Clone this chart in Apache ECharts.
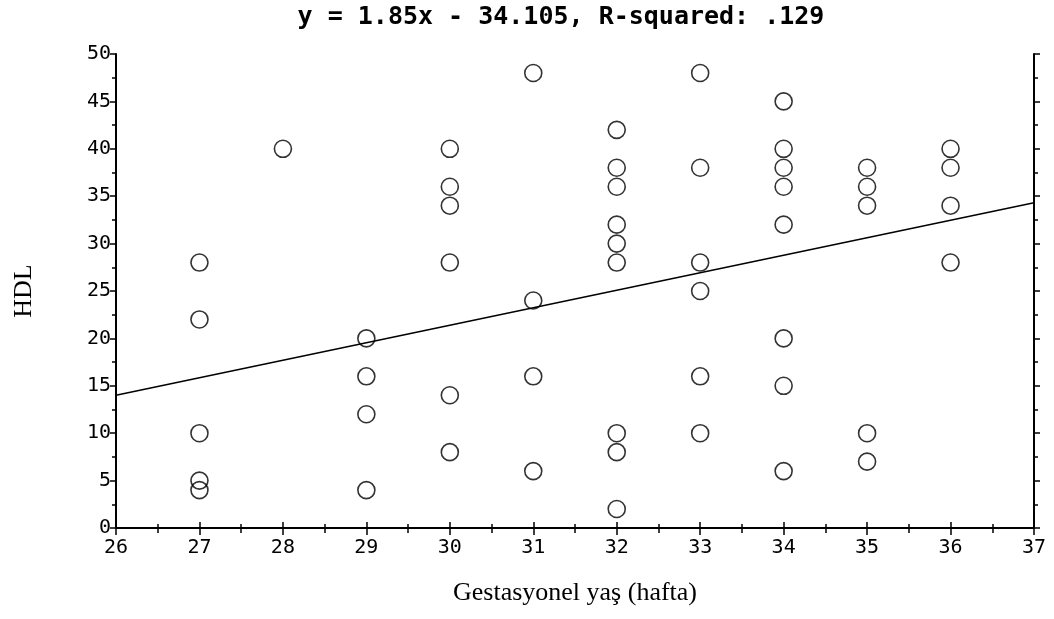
<!DOCTYPE html>
<html>
<head>
<meta charset="utf-8">
<script src="https://cdn.jsdelivr.net/npm/echarts@6/dist/echarts.min.js"></script>
<style>
html,body{margin:0;padding:0;background:#fff;}
#chart{width:1054px;height:619px;}
</style>
</head>
<body>
<div id="chart"></div>
<script>
// Gestational age (weeks) and HDL values
var weeks = [27,27,27,27,27, 28, 29,29,29,29, 30,30,30,30,30,30, 31,31,31,31,
             32,32,32,32,32,32,32,32,32, 33,33,33,33,33,33,
             34,34,34,34,34,34,34,34, 35,35,35,35,35, 36,36,36,36];
var hdl   = [28,22,10,5,4, 40, 20,16,12,4, 40,36,34,28,14,8, 48,24,16,6,
             42,38,36,32,30,28,10,8,2, 48,38,28,25,16,10,
             45,40,38,36,32,20,15,6, 38,36,34,10,7, 40,38,34,28];
// Regression line endpoints (y = 1.85x - 34.105) as read at the axis ends
var fitX = [26, 37];
var fitY = [14.0, 34.3];
var titleText = 'y = 1.85x - 34.105, R-squared: .129';
var xName = 'Gestasyonel yaş (hafta)';
var yName = 'HDL';

var points = weeks.map(function (w, i) { return [w, hdl[i]]; });
var fitLine = fitX.map(function (x, i) { return [x, fitY[i]]; });

var tickFont = {color:'#000', fontFamily:'DejaVu Sans Mono', fontSize:20};
var axisLine = {show:true, lineStyle:{color:'#000', width:2}};
var nameFont = {fontFamily:'Liberation Serif', fontSize:26, color:'#000'};

var chart = echarts.init(document.getElementById('chart'));
chart.setOption({
  animation:false,
  backgroundColor:'#fff',
  title:{
    text:titleText, left:556, textAlign:'center', top:0,
    textStyle:{fontFamily:'DejaVu Sans Mono', fontWeight:'bold', fontSize:25, color:'#000'}
  },
  grid:{left:116, right:20, top:54, bottom:91, containLabel:false},
  xAxis:[{
    type:'value', min:26, max:37, interval:1, position:'bottom',
    axisLine:axisLine,
    axisTick:{show:true, inside:false, length:7, lineStyle:{color:'#000', width:1.5}},
    minorTick:{show:true, splitNumber:2, length:5, lineStyle:{color:'#000', width:1.5}},
    splitLine:{show:false},
    axisLabel:Object.assign({margin:10}, tickFont),
    name:xName, nameLocation:'middle', nameGap:52,
    nameTextStyle:nameFont
  },{
    type:'value', min:26, max:37, interval:1, position:'top',
    axisLine:axisLine,
    axisTick:{show:true, inside:false, length:6, lineStyle:{color:'#000', width:1.5}},
    minorTick:{show:true, splitNumber:2, length:4, lineStyle:{color:'#000', width:1.5}},
    splitLine:{show:false}, axisLabel:{show:false}
  }],
  yAxis:[{
    type:'value', min:0, max:50, interval:5, position:'left',
    axisLine:axisLine,
    axisTick:{show:true, inside:false, length:6, lineStyle:{color:'#000', width:1.5}},
    minorTick:{show:true, splitNumber:2, length:4, lineStyle:{color:'#000', width:1.5}},
    splitLine:{show:false},
    axisLabel:Object.assign({margin:5}, tickFont),
    name:yName, nameLocation:'middle', nameGap:79, nameRotate:90,
    nameTextStyle:nameFont
  },{
    type:'value', min:0, max:50, interval:5, position:'right',
    axisLine:axisLine,
    axisTick:{show:true, inside:false, length:6, lineStyle:{color:'#000', width:1.5}},
    minorTick:{show:true, splitNumber:2, length:4, lineStyle:{color:'#000', width:1.5}},
    splitLine:{show:false}, axisLabel:{show:false}
  }],
  series:[{
    type:'line', data:fitLine, xAxisIndex:0, yAxisIndex:0,
    symbol:'none', lineStyle:{color:'#000', width:1.5}, z:1
  },{
    type:'scatter', data:points, xAxisIndex:0, yAxisIndex:0,
    symbol:'circle', symbolSize:17, z:2,
    itemStyle:{color:'rgba(255,255,255,0)', borderColor:'#000', borderWidth:1.6}
  }]
});
</script>
</body>
</html>
